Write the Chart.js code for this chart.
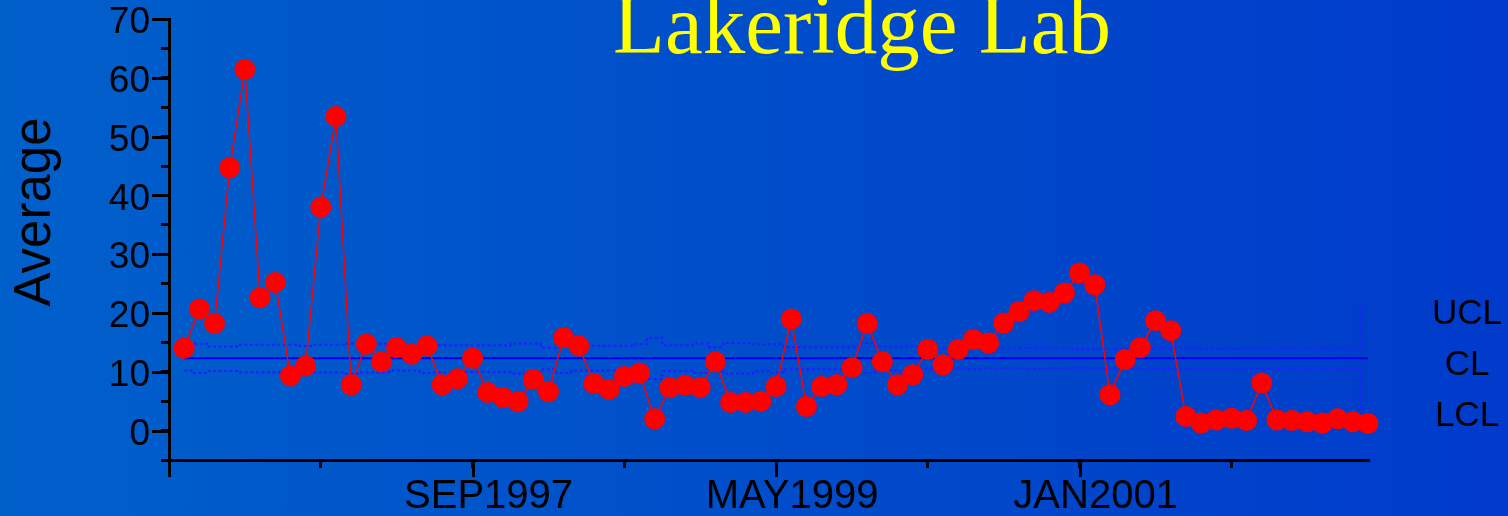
<!DOCTYPE html>
<html>
<head>
<meta charset="utf-8">
<title>Lakeridge Lab</title>
<script src="https://cdn.jsdelivr.net/npm/chart.js@4.4.1/dist/chart.umd.min.js"></script>
<style>
  html, body { margin: 0; padding: 0; }
  body {
    width: 1508px; height: 516px; overflow: hidden;
    background: linear-gradient(to right, #0060ca, #003bcb);
  }
  canvas { display: block; }
</style>
</head>
<body>
<canvas id="chart" width="1508" height="516"></canvas>
<script>
// monthly averages, first point = FEB1996 (month 1), axis starts at JAN1996 (month 0)
const average = [
  14.0, 20.7, 18.2, 44.7, 61.4, 22.6, 25.2, 9.3, 11.0, 38.0,
  53.4, 7.8, 14.7, 11.7, 14.1, 13.0, 14.4, 7.8, 8.8, 12.3,
  6.5, 5.6, 4.9, 8.7, 6.6, 15.8, 14.4, 8.0, 7.0, 9.2,
  9.8, 2.0, 7.3, 7.7, 7.3, 11.7, 4.8, 4.8, 5.0, 7.5,
  19.0, 4.1, 7.5, 7.8, 10.7, 18.2, 11.7, 7.8, 9.5, 13.8,
  11.2, 13.8, 15.5, 14.9, 18.3, 20.2, 22.1, 21.8, 23.4, 26.8,
  24.8, 6.1, 12.1, 14.1, 18.7, 17.0, 2.4, 1.3, 1.8, 2.1,
  1.7, 8.1, 1.8, 1.7, 1.5, 1.3, 2.0, 1.5, 1.2
];
const ucl = [
  14.6, 14.8, 14.3, 14.3, 14.6, 14.6, 14.6, 14.6, 14.4, 14.6,
  14.6, 14.8, 14.8, 14.8, 14.4, 14.4, 14.8, 14.5, 14.5, 14.5,
  14.5, 14.5, 14.8, 14.8, 14.1, 14.7, 14.4, 14.4, 14.4, 14.4,
  14.7, 15.8, 14.5, 14.5, 14.8, 14.2, 14.9, 14.9, 14.6, 14.7,
  14.2, 14.2, 14.2, 14.2, 14.2, 14.9, 14.3, 14.3, 14.3, 14.0,
  14.0, 14.0, 14.1, 14.0, 14.0, 14.0, 14.1, 14.0, 14.0, 13.8,
  13.9, 13.9, 13.9, 13.9, 13.9, 14.1, 14.1, 13.9, 13.9, 13.9,
  13.9, 14.0, 13.9, 13.9, 13.9, 13.9, 14.0, 13.9, 20.8
];
const lcl = [
  10.2, 9.8, 10.1, 10.1, 9.9, 9.9, 9.9, 9.9, 10.2, 9.9,
  9.9, 9.7, 9.9, 9.9, 10.2, 10.2, 9.8, 9.9, 9.9, 10.0,
  10.0, 10.0, 9.7, 9.7, 10.4, 9.8, 10.2, 10.2, 10.2, 10.2,
  10.0, 8.8, 10.1, 10.1, 9.8, 10.4, 9.7, 9.7, 10.1, 9.9,
  10.4, 10.4, 10.4, 10.4, 10.4, 9.8, 10.2, 10.2, 10.2, 10.6,
  10.6, 10.6, 10.5, 10.6, 10.6, 10.6, 10.5, 10.6, 10.6, 10.7,
  10.6, 10.6, 10.6, 10.6, 10.6, 10.5, 10.5, 10.6, 10.6, 10.6,
  10.6, 10.5, 10.6, 10.6, 10.6, 10.6, 10.5, 10.6, 3.8
];
const centerLine = 12.3;
const firstMonth = 1;
const tickMonths = [20, 40, 60];
const tickLabels = ['SEP1997', 'MAY1999', 'JAN2001'];
const limitNames = ['UCL', 'CL', 'LCL'];

const toPoints = arr => arr.map((v, i) => ({ x: firstMonth + i, y: v }));

// long ticks on labelled positions (x every 20 months, y every 10)
const longTicks = {
  id: 'longTicks',
  afterDraw(chart) {
    const { ctx, scales: { x, y } } = chart;
    ctx.save();
    ctx.strokeStyle = '#000';
    ctx.lineWidth = 3;
    ctx.beginPath();
    x.ticks.forEach(t => {
      if (t.value % 20 !== 0) return;
      const px = Math.round(x.getPixelForValue(t.value)) + 0.5;
      ctx.moveTo(px, x.top);
      ctx.lineTo(px, x.top + 17);
    });
    y.ticks.forEach(t => {
      if (t.value % 10 !== 0) return;
      const py = Math.round(y.getPixelForValue(t.value)) + 0.5;
      ctx.moveTo(y.right - 17, py);
      ctx.lineTo(y.right, py);
    });
    ctx.stroke();
    ctx.restore();
  }
};

// title, axis title and the UCL / CL / LCL legend on the right
const slideText = {
  id: 'slideText',
  afterDraw(chart) {
    const { ctx } = chart;
    ctx.save();
    ctx.textAlign = 'center';
    ctx.textBaseline = 'alphabetic';

    ctx.fillStyle = '#ffff00';
    ctx.font = '85px "Liberation Serif"';
    ctx.fillText('Lakeridge Lab', 862, 53);

    ctx.fillStyle = '#000';
    ctx.font = '35px "Liberation Sans"';
    limitNames.forEach((name, i) => ctx.fillText(name, 1467, 324 + i * 51));

    ctx.translate(50, 212);
    ctx.rotate(-Math.PI / 2);
    ctx.font = '51px "Liberation Sans"';
    ctx.fillText('Average', 0, 0);
    ctx.restore();
  }
};

const axisGrid = { drawOnChartArea: false, drawTicks: true, tickLength: 8, color: '#000', lineWidth: 3 };
const axisBorder = { display: true, color: '#000', width: 3 };

new Chart(document.getElementById('chart'), {
  type: 'line',
  data: {
    datasets: [
      {
        label: 'Average',
        data: toPoints(average),
        borderColor: '#ff0000',
        borderWidth: 1.5,
        backgroundColor: '#ff0000',
        pointBackgroundColor: '#ff0000',
        pointBorderWidth: 0,
        pointRadius: 10.5,
        tension: 0,
        clip: false
      },
      {
        label: 'CL',
        data: average.map((v, i) => ({ x: firstMonth + i, y: centerLine })),
        borderColor: '#0000ee',
        borderWidth: 2,
        pointRadius: 0
      },
      {
        label: 'UCL',
        data: toPoints(ucl),
        borderColor: '#2020ff',
        borderWidth: 2.2,
        borderDash: [3, 2.5],
        stepped: 'middle',
        pointRadius: 0
      },
      {
        label: 'LCL',
        data: toPoints(lcl),
        borderColor: '#2020ff',
        borderWidth: 2.2,
        borderDash: [3, 2.5],
        stepped: 'middle',
        pointRadius: 0
      }
    ]
  },
  options: {
    responsive: false,
    animation: false,
    layout: { padding: { top: 19, right: 140, left: 0, bottom: 0 } },
    plugins: { legend: { display: false }, tooltip: { enabled: false } },
    scales: {
      x: {
        type: 'linear',
        min: 0,
        max: 79,
        afterBuildTicks: s => { s.ticks = s.ticks.filter(t => t.value % 10 === 0); },
        afterFit: s => { s.height = 56; s.paddingLeft = 0; s.paddingRight = 0; },
        ticks: {
          stepSize: 10,
          autoSkip: false,
          maxRotation: 0,
          padding: 5,
          labelOffset: 16,
          color: '#000',
          font: { family: 'Liberation Sans', size: 40 },
          callback: v => {
            const k = tickMonths.indexOf(v);
            return k < 0 ? '' : tickLabels[k];
          }
        },
        grid: axisGrid,
        border: axisBorder
      },
      y: {
        min: -5,
        max: 70,
        afterFit: s => { s.width = 169; s.paddingTop = 0; s.paddingBottom = 0; },
        ticks: {
          stepSize: 5,
          autoSkip: false,
          padding: 11,
          labelOffset: 4,
          color: '#000',
          font: { family: 'Liberation Sans', size: 37 },
          callback: v => (v % 10 === 0 ? v : '')
        },
        grid: axisGrid,
        border: axisBorder
      }
    }
  },
  plugins: [longTicks, slideText]
});
</script>
</body>
</html>
